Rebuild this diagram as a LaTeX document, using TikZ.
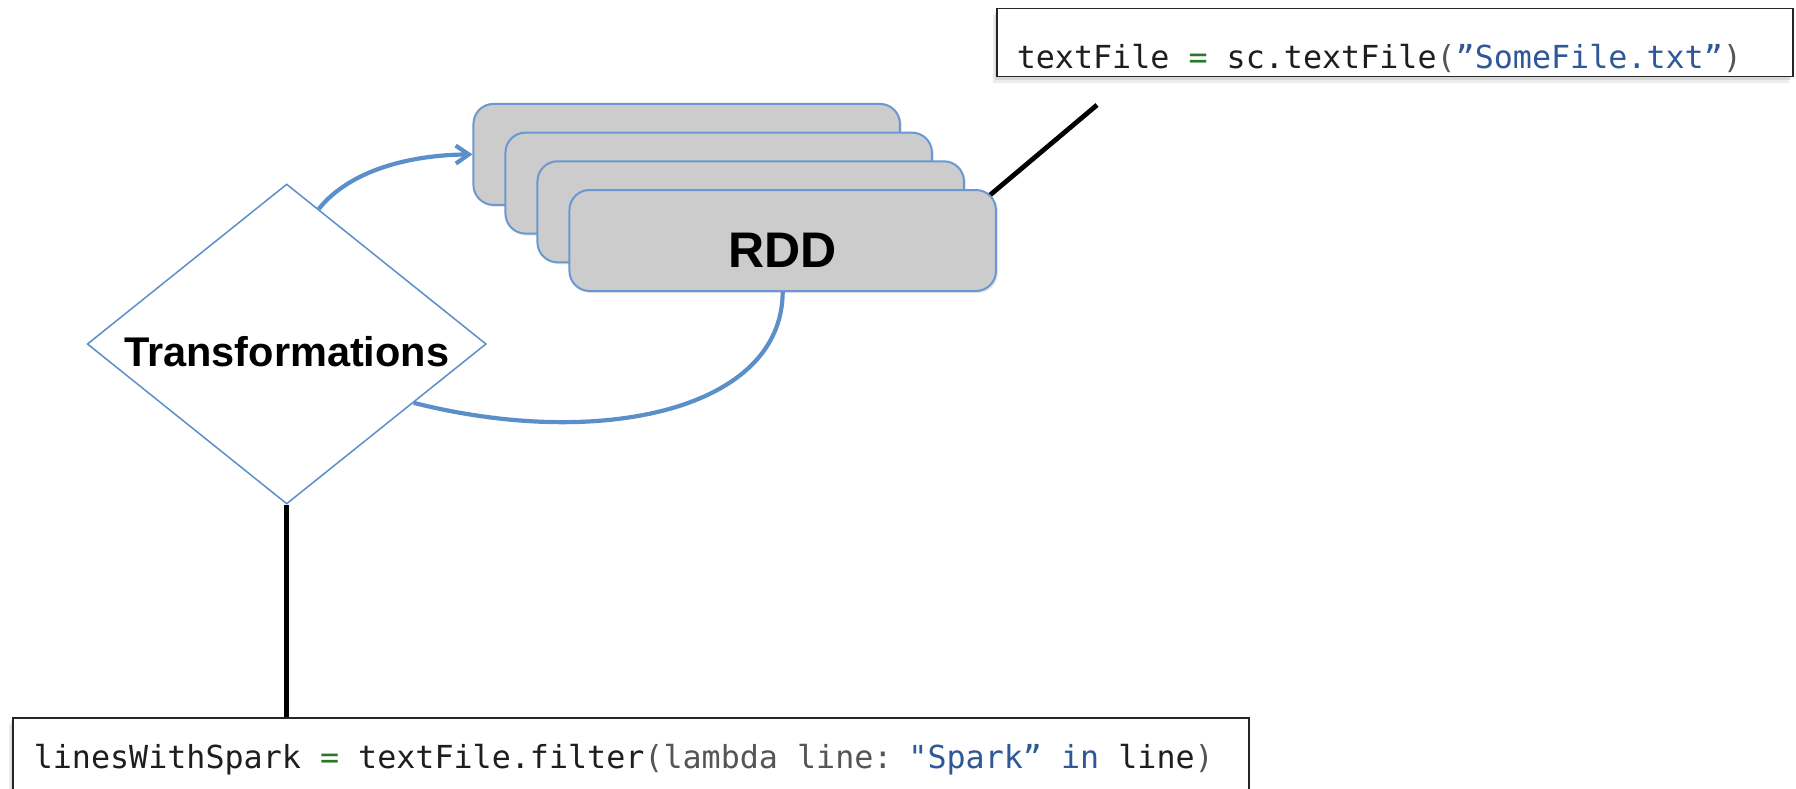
\documentclass[tikz,border=0pt]{standalone}
\usepackage{fontspec}
\setmainfont{Liberation Sans}
\newfontfamily\codefont{DejaVu Sans Mono}
\DeclareRobustCommand\codespaces{\spaceskip=0.602em\relax}
\usetikzlibrary{shapes.geometric,arrows.meta,backgrounds,shadows,calc}
\definecolor{arcblue}{RGB}{91,143,201}
\definecolor{rectblue}{RGB}{105,152,210}
\definecolor{rddgray}{RGB}{204,204,204}
\definecolor{codedark}{RGB}{30,30,30}
\definecolor{eqgreen}{RGB}{40,120,40}
\definecolor{strblue}{RGB}{47,88,150}
\definecolor{lamgray}{RGB}{85,85,85}
\tikzset{
  rddbox/.style={draw=rectblue, line width=2pt, fill=rddgray, rounded corners=20pt,
    minimum width=426.5pt, minimum height=101pt, inner sep=0pt,
    drop shadow={shadow xshift=2pt,shadow yshift=-2pt,opacity=.2}},
  codebox/.style={draw=black!85, line width=1.5pt, fill=white, inner ysep=0pt,
    align=left, font=\codefont\fontsize{31.7}{31.7}\selectfont, text=codedark,
    drop shadow={shadow xshift=-4pt,shadow yshift=-6pt,opacity=.15},
    drop shadow={shadow xshift=-2pt,shadow yshift=-3pt,opacity=.2}},
  arcline/.style={draw=arcblue, line width=4.2pt},
  blackline/.style={draw=black, line width=4.8pt}
}
\begin{document}
\begin{tikzpicture}[x=1pt,y=-1pt]
\useasboundingbox (0,0) rectangle (1796,789);
% RDD stack
\node[rddbox] (r1) at (686.7,154.4) {};
\node[rddbox] (r2) at (718.7,183.1) {};
\node[rddbox] (r3) at (750.7,211.8) {};
\node[rddbox] (r4) at (782.7,240.5) {};
\node[font=\bfseries\fontsize{50}{50}\selectfont] (rddlab) at (782.7,250) {RDD};
% diamond
\node[diamond, draw=arcblue, line width=1.5pt, fill=white, minimum width=399pt,
  minimum height=320pt, inner sep=0pt] (dia) at (286.7,344) {};
\node[font=\bfseries\fontsize{41.5}{41.5}\selectfont] (tlab) at (286.7,351.7) {Transformations};
% code boxes
\node[codebox, anchor=north west, inner xsep=20pt, text width=756pt, text height=60pt, text depth=8pt] (codeA) at (996,8)
  {\codespaces textFile {\color{eqgreen}=} sc.textFile{\color{lamgray}(}{\color{strblue}”SomeFile.txt”}{\color{lamgray})}};
\node[codebox, anchor=north west, inner xsep=21pt, text width=1194pt, text height=51pt, text depth=32pt] (codeB) at (12,717)
  {\codespaces linesWithSpark {\color{eqgreen}=} textFile.filter{\color{lamgray}(lambda line:} {\color{strblue}"Spark” in} line{\color{lamgray})}};
% connectors
\begin{scope}[on background layer]
  \coordinate (lineTop) at (1097,105);
  \draw[blackline] (lineTop) -- ($(r4.north east)+(-14,12)$);
  \draw[blackline] (dia.south) -- (dia.south |- codeB.north);
  \draw[arcline, -{Straight Barb[length=13pt,width=18pt]}]
    ($(dia.north)!0.16!(dia.east)$) .. controls (350,170) and (410,155) .. (r1.west);
  \draw[arcline] (r4.south) .. controls (782,410) and (600,450) .. ($(dia.east)!0.366!(dia.south)$);
\end{scope}
\end{tikzpicture}
\end{document}
